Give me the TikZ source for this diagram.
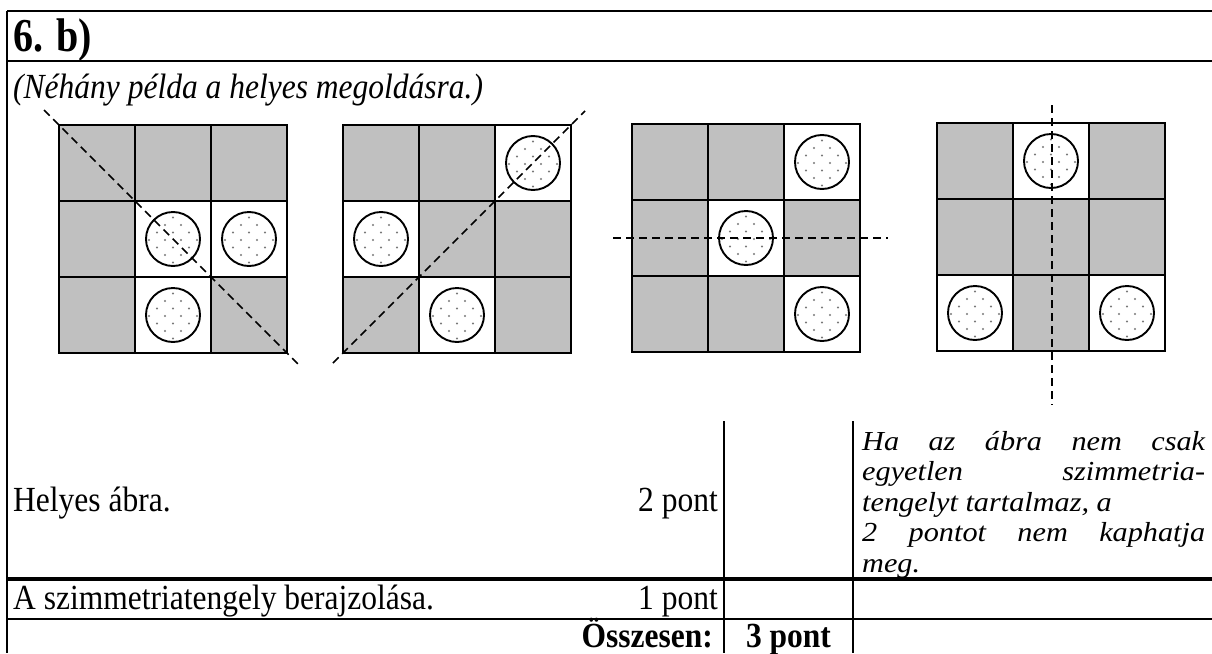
\documentclass[tikz,border=0pt]{standalone}
\usepackage{fontspec}
\usepackage{graphicx}
\setmainfont{Liberation Serif}
\definecolor{cellgray}{RGB}{192,192,192}
\definecolor{dotgray}{RGB}{120,120,120}

% slightly elongated lettering
\newcommand\tall[1]{\scalebox{1}[1.12]{#1}}
% remark column: tight leading, so wider instead of taller
\newcommand\wide[1]{\scalebox{1.1}[1]{#1}}
\newcommand\jline[1]{\wide{\makebox[311.8pt][s]{#1}}\par}

% a stippled counter centred at (#1,#2)
\newcommand\drawcoin[2]{%
  \begin{scope}
    \clip (#1,#2) circle[radius=26];
    \foreach \k in {0,...,6}{
      \foreach \i in {-6,-4,...,4}{
        \pgfmathsetmacro\dx{8*\i+8*mod(\k,2)}
        \pgfmathsetmacro\dy{-21.5+7.5*\k}
        \fill[dotgray] (#1+\dx,#2+\dy) circle[radius=1.05];
      }
    }
  \end{scope}
  \draw[coinline] (#1,#2) circle[radius=27];
}

% 3x3 board with top-left corner (#1,#2); #3 = list of white cells col/row
\newcommand\drawboard[3]{%
  \fill[cellgray] (#1,#2) rectangle ++(228,228);
  \foreach \c/\r in {#3}{
    \fill[white] ({#1+76*(\c-1)},{#2+76*(\r-1)}) rectangle ++(76,76);
    \drawcoin{#1+76*\c-38}{#2+76*\r-38}
  }
  \foreach \t in {0,76,152,228}{
    \draw[gridline] ({#1+\t},#2) -- ({#1+\t},{#2+228});
    \draw[gridline] (#1,{#2+\t}) -- ({#1+228},{#2+\t});
  }
}

\tikzset{
  gridline/.style={line width=1.9pt, line cap=rect},
  coinline/.style={line width=1.9pt},
  axis/.style={line width=1.6pt, dash pattern=on 8pt off 5pt},
  frame/.style={line width=2pt},
  rule/.style={line width=1.5pt},
  thickrule/.style={line width=3.5pt},
  body/.style={font=\fontsize{31.5}{32}\selectfont},
  txt/.style={inner sep=0pt, anchor=base west, body},
  txtr/.style={inner sep=0pt, anchor=base east, body},
  note/.style={txt, font=\fontsize{31.5}{32}\selectfont\itshape},
}

\begin{document}
\begin{tikzpicture}[x=1pt,y=-1pt]
  \useasboundingbox (0,0) rectangle (1212,653);
  \fill[white] (0,0) rectangle (1212,653);

  % frame and table rules
  \draw[frame] (7,11) -- (1212,11);
  \draw[frame] (7,61) -- (1212,61);
  \draw[frame] (7,11) -- (7,653);
  \draw[thickrule] (7,579) -- (1212,579);
  \draw[rule] (7,619) -- (1212,619);
  \draw[rule] (724,421) -- (724,653);
  \draw[rule] (853,421) -- (853,653);

  % heading
  \node[txt, font=\fontsize{40}{44}\selectfont\bfseries] (title) at (13,51)
    {\scalebox{1}[1.18]{6. b)}};
  \node[note] (intro) at (13,98)
    {\tall{(Néhány példa a helyes megoldásra.)}};

  % four boards
  \drawboard{59}{125}{2/2,3/2,2/3}
  \drawboard{343}{125}{3/1,1/2,2/3}
  \drawboard{632}{124}{3/1,2/2,3/3}
  \drawboard{937}{123}{2/1,1/3,3/3}

  % axes of symmetry
  \coordinate (a1s) at (44,110);   \coordinate (a1e) at (298,364);
  \coordinate (a2s) at (333,363);  \coordinate (a2e) at (585,111);
  \coordinate (a3s) at (613,238);  \coordinate (a3e) at (888,238);
  \coordinate (a4s) at (1052,105); \coordinate (a4e) at (1052,405);
  \draw[axis] (a1s) -- (a1e);
  \draw[axis] (a2s) -- (a2e);
  \draw[axis] (a3s) -- (a3e);
  \draw[axis] (a4s) -- (a4e);

  % scoring table
  \node[txt] (row1) at (13,511) {\tall{Helyes ábra.}};
  \node[txtr] (pts1) at (718,511) {\tall{2 pont}};
  \node[note, font=\fontsize{27.5}{30.5}\selectfont\itshape] (remark) at (862,450)
    {\vtop{\hsize=343pt\parindent=0pt\parskip=0pt
      \baselineskip=30.5pt\lineskiplimit=-100pt\lineskip=0pt
      \jline{Ha az ábra nem csak}
      \jline{egyetlen szimmetria-}
      \wide{tengelyt tartalmaz, a}\par
      \jline{2 pontot nem kaphatja}
      \wide{meg.}\par}};

  \node[txt] (row2) at (13,609) {\tall{A szimmetriatengely berajzolása.}};
  \node[txtr] (pts2) at (718,609) {\tall{1 pont}};

  \node[txtr, font=\fontsize{31.5}{32}\selectfont\bfseries] (sum) at (713,647) {\tall{Összesen:}};
  \node[inner sep=0pt, anchor=base, font=\fontsize{31.5}{32}\selectfont\bfseries] (total) at (788.5,647) {\tall{3 pont}};
\end{tikzpicture}
\end{document}
